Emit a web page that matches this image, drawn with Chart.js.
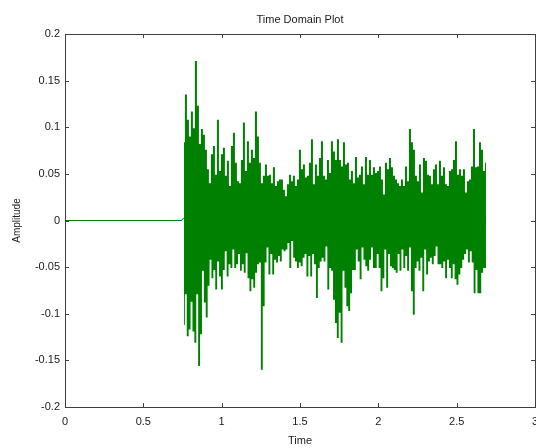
<!DOCTYPE html>
<html>
<head>
<meta charset="utf-8">
<title>Time Domain Plot</title>
<script src="https://cdn.jsdelivr.net/npm/chart.js@4.4.0/dist/chart.umd.min.js"></script>
<style>
  html, body { margin: 0; padding: 0; background: #fff; }
  #wrap { width: 536px; height: 448px; }
</style>
</head>
<body>
<div id="wrap"><canvas id="signalChart" width="536" height="448"></canvas></div>
<script>
// Recording window: silence, then the signal from signalStart to signalEnd (seconds)
const signalStart = 0.759;
const signalEnd = 2.687;

// Silent lead-in before the onset, with the small step just before it
const leadInTimes = [0, 0.745, 0.752, 0.759];
const leadInValues = [0, 0, 0.002, 0.002];

// Positive peak per short window across the signal
const upperPeaks = [
  0.084, 0.135, 0.108, 0.090, 0.117, 0.099, 0.171, 0.123, 0.082, 0.098,
  0.092, 0.076, 0.055, 0.040, 0.071, 0.080, 0.049, 0.108, 0.053, 0.071,
  0.078, 0.048, 0.064, 0.037, 0.080, 0.094, 0.062, 0.042, 0.040, 0.065,
  0.105, 0.053, 0.085, 0.062, 0.076, 0.067, 0.117, 0.090, 0.062, 0.040,
  0.048, 0.060, 0.048, 0.049, 0.040, 0.057, 0.037, 0.042, 0.044, 0.044,
  0.033, 0.026, 0.039, 0.049, 0.042, 0.048, 0.037, 0.044, 0.076, 0.055,
  0.060, 0.046, 0.048, 0.062, 0.087, 0.039, 0.060, 0.048, 0.067, 0.085,
  0.048, 0.044, 0.065, 0.051,
  0.085, 0.074, 0.065, 0.087, 0.065, 0.058, 0.084, 0.060, 0.062, 0.044,
  0.053, 0.040, 0.068, 0.046, 0.049, 0.058, 0.039, 0.068, 0.049, 0.065,
  0.049, 0.057, 0.051, 0.053, 0.058, 0.044, 0.028, 0.062, 0.055, 0.067,
  0.057, 0.048, 0.044, 0.040, 0.037, 0.044, 0.037, 0.058, 0.042, 0.098,
  0.084, 0.076, 0.048, 0.042, 0.060, 0.030, 0.067, 0.064, 0.049, 0.048,
  0.039, 0.055, 0.060, 0.039, 0.064, 0.048, 0.057, 0.039, 0.037, 0.053,
  0.055, 0.065, 0.085, 0.049, 0.055, 0.048, 0.055, 0.030, 0.042, 0.044,
  0.058, 0.098, 0.057, 0.058, 0.084, 0.076, 0.053, 0.062
];

// Negative peak per short window across the signal
const lowerPeaks = [
  -0.112, -0.079, -0.124, -0.117, -0.087, -0.119, -0.131, -0.079, -0.156, -0.122,
  -0.054, -0.088, -0.104, -0.070, -0.042, -0.062, -0.053, -0.074, -0.044, -0.060,
  -0.074, -0.053, -0.033, -0.060, -0.047, -0.051, -0.031, -0.051, -0.047, -0.036,
  -0.054, -0.047, -0.056, -0.035, -0.062, -0.076, -0.063, -0.072, -0.056, -0.047,
  -0.045, -0.160, -0.092, -0.045, -0.029, -0.058, -0.036, -0.058, -0.042, -0.045,
  -0.038, -0.044, -0.031, -0.033, -0.031, -0.024, -0.051, -0.022, -0.040, -0.044,
  -0.051, -0.045, -0.049, -0.040, -0.036, -0.060, -0.038, -0.060, -0.036, -0.047,
  -0.083, -0.051, -0.044, -0.040, -0.044, -0.028, -0.074, -0.051, -0.054, -0.085,
  -0.110, -0.126, -0.099, -0.131, -0.054, -0.072, -0.092, -0.097, -0.078, -0.053,
  -0.053, -0.031, -0.044, -0.063, -0.029, -0.042, -0.049, -0.054, -0.042, -0.029,
  -0.051, -0.051, -0.036, -0.051, -0.076, -0.062, -0.031, -0.072, -0.036, -0.049,
  -0.051, -0.053, -0.056, -0.036, -0.054, -0.031, -0.051, -0.038, -0.054, -0.029,
  -0.076, -0.101, -0.051, -0.044, -0.054, -0.040, -0.076, -0.031, -0.058, -0.044,
  -0.040, -0.047, -0.038, -0.028, -0.047, -0.047, -0.051, -0.044, -0.062, -0.042,
  -0.051, -0.062, -0.047, -0.063, -0.069, -0.058, -0.051, -0.042, -0.036, -0.031,
  -0.045, -0.033, -0.045, -0.078, -0.053, -0.078, -0.078, -0.056, -0.051, -0.051
];

// Axis ranges and tick steps
const timeRange = [0, 3];
const timeStep = 0.5;
const amplitudeRange = [-0.2, 0.2];
const amplitudeStep = 0.05;

const traceColor = '#008000';
const axisColor = '#404040';
const textColor = '#1a1a1a';
const fontFamily = '"Liberation Sans", Arial, sans-serif';

// spread each peak list evenly over the signal window
function toPoints(values) {
  const span = (signalEnd - signalStart) / (values.length - 1);
  return values.map((v, i) => ({ x: signalStart + i * span, y: v }));
}

function fmtTick(v) {
  return String(Math.round(v * 100) / 100);
}

// peaks are drawn as a stepped outline filled back toward zero, so the
// dense oscillation reads as a solid band with spikes at its edges;
// the fill base goes a hair past zero so the two halves overlap
function envelope(values, base) {
  return {
    data: toPoints(values),
    borderColor: traceColor,
    backgroundColor: traceColor,
    borderWidth: 0,
    pointRadius: 0,
    stepped: 'middle',
    fill: { value: base }
  };
}

// box around the plot, inward tick marks on all four sides, and the title
const frameTicks = {
  id: 'frameTicks',
  afterDatasetsDraw(chart) {
    const { ctx, chartArea: a, scales } = chart;
    const len = 4;
    ctx.save();
    ctx.strokeStyle = axisColor;
    ctx.lineWidth = 1;
    ctx.beginPath();
    scales.x.ticks.forEach(t => {
      const px = Math.round(scales.x.getPixelForValue(t.value)) + 0.5;
      ctx.moveTo(px, a.bottom); ctx.lineTo(px, a.bottom - len);
      ctx.moveTo(px, a.top); ctx.lineTo(px, a.top + len);
    });
    scales.y.ticks.forEach(t => {
      const py = Math.round(scales.y.getPixelForValue(t.value)) + 0.5;
      ctx.moveTo(a.left, py); ctx.lineTo(a.left + len, py);
      ctx.moveTo(a.right, py); ctx.lineTo(a.right - len, py);
    });
    ctx.stroke();
    ctx.strokeRect(Math.round(a.left) + 0.5, Math.round(a.top) + 0.5,
      Math.round(a.right - a.left), Math.round(a.bottom - a.top));

    ctx.fillStyle = textColor;
    ctx.font = '11px ' + fontFamily;
    ctx.textAlign = 'center';
    ctx.textBaseline = 'middle';
    ctx.fillText('Time Domain Plot', (a.left + a.right) / 2, 20);
    ctx.restore();
  }
};

const ctx = document.getElementById('signalChart').getContext('2d');
new Chart(ctx, {
  type: 'line',
  data: {
    datasets: [
      {
        data: leadInTimes.map((t, i) => ({ x: t, y: leadInValues[i] })),
        borderColor: traceColor,
        borderWidth: 1,
        pointRadius: 0,
        tension: 0
      },
      envelope(upperPeaks, -0.004),
      envelope(lowerPeaks, 0.004)
    ]
  },
  options: {
    responsive: false,
    animation: false,
    layout: { padding: { top: 34, right: 1, left: 0, bottom: 0 } },
    plugins: {
      legend: { display: false },
      tooltip: { enabled: false }
    },
    scales: {
      x: {
        type: 'linear',
        min: timeRange[0],
        max: timeRange[1],
        grid: { display: false, drawTicks: false },
        border: { display: false },
        ticks: {
          stepSize: timeStep,
          autoSkip: false,
          maxRotation: 0,
          padding: 8,
          color: textColor,
          font: { family: fontFamily, size: 11 },
          callback: fmtTick
        },
        title: {
          display: true,
          text: 'Time',
          color: textColor,
          font: { family: fontFamily, size: 11 },
          padding: { top: 0, bottom: 0 }
        },
        afterFit(scale) {
          scale.height = 41;
          scale.paddingLeft = 0;
          scale.paddingRight = 0;
        }
      },
      y: {
        type: 'linear',
        min: amplitudeRange[0],
        max: amplitudeRange[1],
        grid: { display: false, drawTicks: false },
        border: { display: false },
        ticks: {
          stepSize: amplitudeStep,
          autoSkip: false,
          padding: 5,
          color: textColor,
          font: { family: fontFamily, size: 11 },
          callback: fmtTick
        },
        title: {
          display: true,
          text: 'Amplitude',
          color: textColor,
          font: { family: fontFamily, size: 10 },
          padding: { top: 11, bottom: 0 }
        },
        afterFit(scale) {
          scale.width = 65;
          scale.paddingTop = 0;
          scale.paddingBottom = 0;
        }
      }
    }
  },
  plugins: [frameTicks]
});
</script>
</body>
</html>
